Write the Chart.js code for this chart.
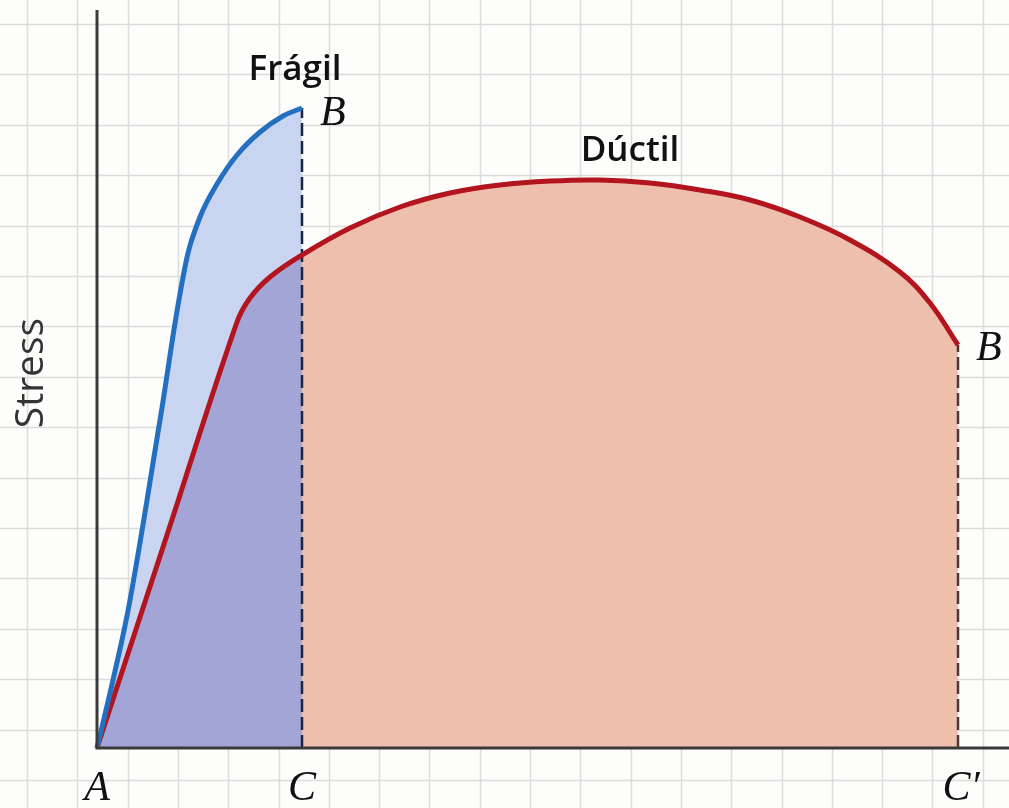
<!DOCTYPE html>
<html>
<head>
<meta charset="utf-8">
<script src="https://cdn.jsdelivr.net/npm/chart.js@4/dist/chart.umd.min.js"></script>
<style>
  html, body { margin: 0; padding: 0; background: #fdfdfb; }
  #wrap { width: 1009px; height: 808px; }
</style>
</head>
<body>
<div id="wrap"><canvas id="c" width="1009" height="808"></canvas></div>
<script>
// ---- Data (strain in arbitrary units, stress in arbitrary units) ----
const brittleStrain = [0, 0.39, 0.805, 1.537, 2.146, 2.512, 2.927, 3.415, 3.976, 4.537, 5.0];
const brittleStress = [0, 10.6, 23.1, 51.25, 75.16, 82.97, 88.13, 92.66, 96.25, 98.75, 100];

const ductileStrain = [0, 1.707, 3.415, 3.732, 4.220, 5.0, 6.171, 7.390, 8.610, 9.829, 11.049, 12.268, 13.488, 14.707, 15.927, 17.146, 18.366, 19.585, 20.317, 21.0];
const ductileStress = [0, 33.27, 66.56, 70.31, 73.59, 77.03, 81.25, 84.53, 86.72, 87.97, 88.59, 88.75, 88.28, 87.19, 85.63, 82.97, 79.38, 74.38, 69.53, 62.97];

const pointLabels = ['A', 'C', 'C\u2032'];          // x-axis marks
const pointLabelStrain = [0, 5.0, 21.0];
const curveNames = ['Fr\u00e1gil', 'D\u00factil'];
const yAxisTitle = 'Stress';

const toPts = (xs, ys) => xs.map((x, i) => ({ x, y: ys[i] }));
const brittlePts = toPts(brittleStrain, brittleStress);
const ductilePts = toPts(ductileStrain, ductileStress);
const bEnd = brittlePts[brittlePts.length - 1];
const dEnd = ductilePts[ductilePts.length - 1];

const BLUE = '#2470c0', RED = '#b3151f';
const LIGHTBLUE = '#c9d5f0', PURPLE = '#a3a5d6', SALMON = '#efbfae';
const TENSION = 0.4;

const bgPlugin = {
  id: 'bgGrid',
  beforeDraw(chart) {
    const { ctx, width, height, scales: { x, y } } = chart;
    ctx.save();
    ctx.fillStyle = '#fdfdfb';
    ctx.fillRect(0, 0, width, height);
    ctx.strokeStyle = '#dcdcdc';
    ctx.lineWidth = 1.5;
    const gx0 = -1.7073, gdx = 1.22683;
    for (let n = 0; n < 21; n++) {
      const px = Math.round(x.getPixelForValue(gx0 + n * gdx)) + 0.5;
      ctx.beginPath(); ctx.moveTo(px, 0); ctx.lineTo(px, height); ctx.stroke();
    }
    const gy0 = -5, gdy = 7.875;
    for (let n = 0; n < 17; n++) {
      const py = Math.round(y.getPixelForValue(gy0 + n * gdy)) + 0.5;
      ctx.beginPath(); ctx.moveTo(0, py); ctx.lineTo(width, py); ctx.stroke();
    }
    ctx.restore();
  },
  afterDatasetsDraw(chart) {
    const { ctx, scales: { x, y } } = chart;
    ctx.save();
    ctx.strokeStyle = '#3a3a3a';
    ctx.lineWidth = 3;
    const ox = x.getPixelForValue(0), oy = y.getPixelForValue(0);
    ctx.beginPath();
    ctx.moveTo(ox, y.getPixelForValue(115.3));
    ctx.lineTo(ox, oy);
    ctx.lineTo(x.getPixelForValue(x.max), oy);
    ctx.stroke();
    ctx.restore();
  },
  afterDraw(chart) {
    const { ctx, scales: { x, y } } = chart;
    ctx.save();
    ctx.fillStyle = '#111';
    ctx.font = 'italic 42px "Liberation Serif", "DejaVu Serif", serif';
    ctx.textAlign = 'center';
    ctx.textBaseline = 'alphabetic';
    const baseY = y.getPixelForValue(0) + 52;
    pointLabels.forEach((t, i) => {
      ctx.fillText(t, x.getPixelForValue(pointLabelStrain[i]) + (i === 2 ? 3 : 0), baseY);
    });
    ctx.textAlign = 'left';
    ctx.fillText('B', x.getPixelForValue(bEnd.x) + 18, y.getPixelForValue(bEnd.y) + 17);
    ctx.fillText('B', x.getPixelForValue(dEnd.x) + 18, y.getPixelForValue(dEnd.y) + 15);
    ctx.fillStyle = '#111';
    ctx.font = '600 35px "Open Sans", "DejaVu Sans", sans-serif';
    ctx.textAlign = 'center';
    ctx.fillText(curveNames[0], x.getPixelForValue(bEnd.x) - 7, y.getPixelForValue(bEnd.y) - 28);
    ctx.fillText(curveNames[1], x.getPixelForValue(13.0), y.getPixelForValue(91.7));
    ctx.fillStyle = '#333';
    ctx.font = '39px "Open Sans", "DejaVu Sans", sans-serif';
    ctx.translate(43, 373);
    ctx.rotate(-Math.PI / 2);
    ctx.textAlign = 'center';
    ctx.fillText(yAxisTitle, 0, 0);
    ctx.restore();
  }
};

const redFill = (context) => {
  const chart = context.chart;
  if (!chart.chartArea) return SALMON;
  const px = chart.scales.x.getPixelForValue(bEnd.x);
  const t = Math.min(Math.max(px / chart.width, 0), 1);
  const g = chart.ctx.createLinearGradient(0, 0, chart.width, 0);
  g.addColorStop(0, PURPLE);
  g.addColorStop(t, PURPLE);
  g.addColorStop(t, SALMON);
  g.addColorStop(1, SALMON);
  return g;
};

new Chart(document.getElementById('c'), {
  type: 'line',
  data: {
    datasets: [
      { label: 'brittle line', data: brittlePts, borderColor: BLUE, borderWidth: 5, fill: false,
        tension: TENSION, pointRadius: 0 },
      { label: 'ductile line', data: ductilePts, borderColor: RED, borderWidth: 5, fill: false,
        tension: TENSION, pointRadius: 0 },
      { label: 'C', data: [{ x: bEnd.x, y: 0 }, { x: bEnd.x, y: bEnd.y }], borderColor: '#1c2540',
        borderWidth: 2.5, borderDash: [13, 5], fill: false, pointRadius: 0 },
      { label: "C'", data: [{ x: dEnd.x, y: 0 }, { x: dEnd.x, y: dEnd.y }], borderColor: '#4d3838',
        borderWidth: 2.5, borderDash: [13, 5], fill: false, pointRadius: 0 },
      { label: 'ductile fill', data: ductilePts, borderWidth: 0, borderColor: 'rgba(0,0,0,0)',
        backgroundColor: redFill, fill: 'origin', tension: TENSION, pointRadius: 0 },
      { label: 'brittle fill', data: brittlePts, borderWidth: 0, borderColor: 'rgba(0,0,0,0)',
        backgroundColor: LIGHTBLUE, fill: 'origin', tension: TENSION, pointRadius: 0 }
    ]
  },
  options: {
    responsive: false,
    animation: false,
    devicePixelRatio: 1,
    layout: { padding: 0 },
    plugins: { legend: { display: false }, tooltip: { enabled: false } },
    scales: {
      x: { type: 'linear', display: false, min: -97 / 41, max: 912 / 41 },
      y: { type: 'linear', display: false, min: -60 / 6.4, max: 748 / 6.4 }
    }
  },
  plugins: [bgPlugin]
});
</script>
</body>
</html>
